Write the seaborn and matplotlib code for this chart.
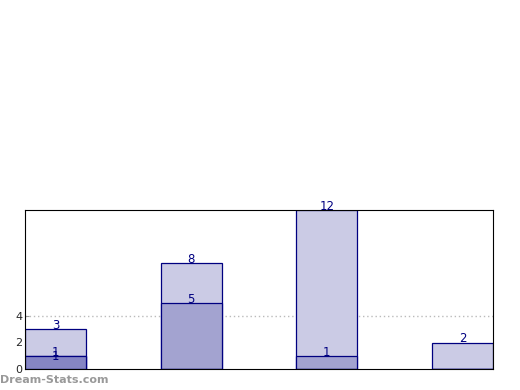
import seaborn as sns
import matplotlib.pyplot as plt

groups = ['g1', 'g2', 'g3', 'g4']
series_a = [3, 8, 12, 2]
series_b = [1, 5, 1, 0]
series_c = [1, 0, 0, 0]

sns.set_style('white')
plt.rcParams['font.family'] = ['DejaVu Sans']

fig = plt.figure(figsize=(5.2, 3.9), dpi=100)
ax = fig.add_axes([25 / 520, 21 / 390, 468 / 520, 159 / 390])

fills = ['#cbcbe5', '#a3a3d0', '#8686c4']
navy = '#000080'
for vals, col in zip([series_a, series_b, series_c], fills):
    sns.barplot(x=groups, y=vals, color=col, width=0.45, saturation=1,
                edgecolor=navy, linewidth=0.9, ax=ax)

for cont, vals, pad in zip(ax.containers, [series_a, series_b, series_c], [-2, -2, -5]):
    ax.bar_label(cont, labels=[str(v) if v else '' for v in vals],
                 padding=pad, color=navy, fontsize=8.5)

ax.axhline(4, color='#bbbbbb', linestyle=(0, (1, 2)), linewidth=1, zorder=0)
ax.set_xlim(-0.225, 3.225)
ax.set_ylim(0, 12)
ax.set_yticks([0, 2, 4])
ax.set_xticks([])
ax.tick_params(axis='y', direction='in', length=3, color='#999999',
               labelsize=8, pad=2, left=True)
for s in ax.spines.values():
    s.set_color('black')
    s.set_linewidth(0.8)
ax.set_xlabel('')
ax.set_ylabel('')

fig.text(0.0, 10 / 390, 'Dream-Stats.com', color='#999999', fontsize=8,
         fontweight='bold', va='center', ha='left')

fig.savefig('out.png', dpi=100)
